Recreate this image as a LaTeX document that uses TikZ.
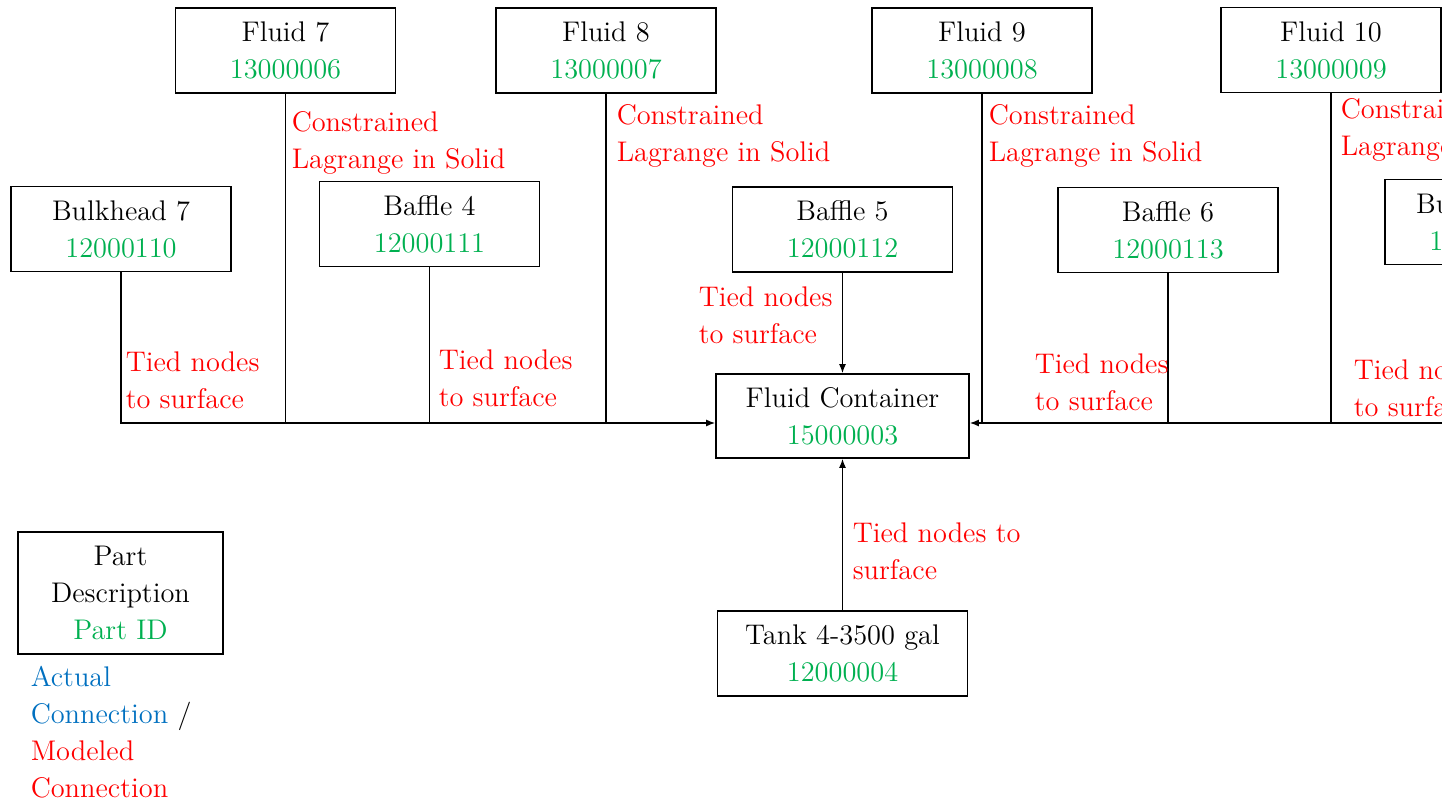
\documentclass[tikz,border=0pt]{standalone}
\usepackage{fontspec}
\usetikzlibrary{arrows.meta, positioning, calc}

\definecolor{idgreen}{RGB}{0,176,80}
\definecolor{linkred}{RGB}{255,0,0}
\definecolor{linkblue}{RGB}{0,112,192}

\begin{document}
\begin{tikzpicture}[
    x=0.5pt, y=-0.5pt,
    font=\fontsize{14.2}{18.5}\selectfont,
    >={Latex[length=4.5pt,width=3.5pt]},
    line width=0.75pt,
    part/.style={draw, line width=0.8pt, align=center, minimum width=110pt, minimum height=42.5pt, inner sep=2pt},
    note/.style={text=linkred, align=left, anchor=west, inner sep=0pt}
]

% frame of the cut-out
\useasboundingbox (0,0) rectangle (1442,803);
\clip (0,0) rectangle (1442,803);

% 1. Fluids (top row)
\node[part] (Fluid7) at (285.5,50.5) {Fluid 7\\\textcolor{idgreen}{13000006}};
\node[part] (Fluid8) at (606,50.5) {Fluid 8\\\textcolor{idgreen}{13000007}};
\node[part] (Fluid9) at (982,50.5) {Fluid 9\\\textcolor{idgreen}{13000008}};
\node[part] (Fluid10) at (1331,50) {Fluid 10\\\textcolor{idgreen}{13000009}};

% 2. Bulkheads and baffles
\node[part] (Bulkhead7) at (121,229) {Bulkhead 7\\\textcolor{idgreen}{12000110}};
\node[part] (Baffle4) at (429.5,224) {Baffle 4\\\textcolor{idgreen}{12000111}};
\node[part] (Baffle5) at (842.5,229.5) {Baffle 5\\\textcolor{idgreen}{12000112}};
\node[part] (Baffle6) at (1168,230) {Baffle 6\\\textcolor{idgreen}{12000113}};
\node[part, minimum width=100pt] (Bulkhead8) at (1485,222) {Bulkhead 8\\\textcolor{idgreen}{12000114}};

% 3. Container and tank
\node[part, minimum width=126.5pt, minimum height=42pt] (Container) at (842.5,416) {Fluid Container\\\textcolor{idgreen}{15000003}};
\node[part, minimum width=125pt] (Tank) at (842.5,653.5) {Tank 4-3500 gal\\\textcolor{idgreen}{12000004}};

% Legend
\node[part, minimum width=102.5pt, minimum height=61pt] (Legend) at (120.5,593) {Part\\Description\\\textcolor{idgreen}{Part ID}};
\node[note, text=black] (Key) at (30,732) {\textcolor{linkblue}{Actual}\\\textcolor{linkblue}{Connection} /\\\textcolor{linkred}{Modeled}\\\textcolor{linkred}{Connection}};

% Connections
\coordinate (inL) at ([yshift=-3.5pt]Container.west);
\coordinate (inR) at ([yshift=-3.5pt]Container.east);

\draw[->] (Bulkhead7.south) |- (inL);
\foreach \n in {Fluid7, Baffle4, Fluid8}
    \draw (\n.south) -- (\n.south |- inL);
\draw[->] (Bulkhead8.south) |- (inR);
\foreach \n in {Fluid9, Baffle6, Fluid10}
    \draw (\n.south) -- (\n.south |- inR);
\draw[->] (Baffle5.south) -- (Container.north);
\draw[->] (Tank.north) -- (Container.south);

% Labels
\node[note] at (291,143) {Constrained\\Lagrange in Solid};
\node[note] at (616,136) {Constrained\\Lagrange in Solid};
\node[note] at (988,136) {Constrained\\Lagrange in Solid};
\node[note] at (1340,130) {Constrained\\Lagrange in Solid};
\node[note] at (125,380) {Tied nodes\\to surface};
\node[note] at (438,378) {Tied nodes\\to surface};
\node[note] at (698,315) {Tied nodes\\to surface};
\node[note] at (1034,382) {Tied nodes\\to surface};
\node[note] at (1353,388) {Tied nodes\\to surface};
\node[note] at (852,551) {Tied nodes to\\surface};

\end{tikzpicture}
\end{document}
